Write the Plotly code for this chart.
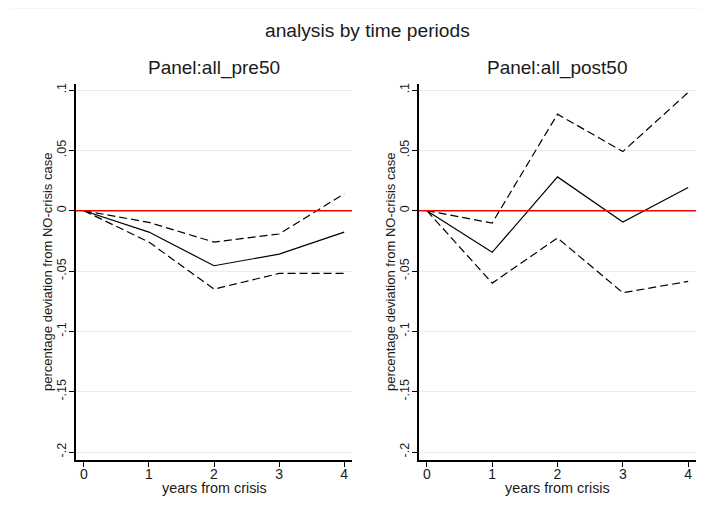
import plotly.graph_objects as go

years = [0, 1, 2, 3, 4]
pre50_est = [0, -0.0177, -0.0456, -0.036, -0.0177]
pre50_upper = [0, -0.0097, -0.026, -0.0193, 0.014]
pre50_lower = [0, -0.026, -0.065, -0.052, -0.052]
post50_est = [0, -0.0345, 0.028, -0.0094, 0.0193]
post50_upper = [0, -0.0102, 0.080, 0.049, 0.098]
post50_lower = [0, -0.060, -0.0226, -0.068, -0.0586]

ytick_vals = [-0.2, -0.15, -0.1, -0.05, 0, 0.05, 0.1]
ytick_text = ["-.2", "-.15", "-.1", "-.05", "0", ".05", ".1"]
xtick_vals = [0, 1, 2, 3, 4]
panel_titles = ["Panel:all_pre50", "Panel:all_post50"]
main_title = "analysis by time periods"
xtitle = "years from crisis"
ytitle = "percentage deviation from NO-crisis case"

# page body has an 8px margin; figure is sized so it fits the 708x521 window
OFF = 8
W, H = 708 - 2 * OFF, 521 - 2 * OFF
FONT = "Liberation Sans, Arial, sans-serif"
TXT = "#1a1a1a"


def px_x(px):
    return (px - OFF) / W


def px_y(py):
    return 1 - (py - OFF) / H


fig = go.Figure()

panels = [(pre50_est, pre50_upper, pre50_lower), (post50_est, post50_upper, post50_lower)]
for i, (est, up, lo) in enumerate(panels):
    xa = "x" if i == 0 else "x2"
    ya = "y" if i == 0 else "y2"
    for series, dash in [(up, "8px,4px"), (lo, "8px,4px"), (est, "solid")]:
        fig.add_trace(go.Scatter(x=years, y=series, mode="lines", xaxis=xa, yaxis=ya,
                                 line=dict(color="black", width=1.2, dash=dash),
                                 showlegend=False, hoverinfo="skip"))

left_px = [(76, 352), (419, 696)]
top_px, bot_px = 84, 460
ydom = [px_y(bot_px), px_y(top_px)]

common_x = dict(range=[-0.12, 4.12], tickvals=xtick_vals, showgrid=False, zeroline=False,
                showline=True, linecolor="black", linewidth=1.5, ticks="outside", ticklen=5,
                tickwidth=1.2, tickcolor="black", automargin=False, ticklabelstandoff=-5,
                tickfont=dict(family=FONT, size=14, color=TXT), fixedrange=True)
common_y = dict(range=[-0.2066, 0.105], tickvals=ytick_vals, ticktext=ytick_text,
                showgrid=True, gridcolor="#ebebeb", gridwidth=1, zeroline=False,
                showline=True, linecolor="black", linewidth=1.5, ticks="outside", ticklen=5,
                tickwidth=1.2, tickcolor="black", tickangle=-90, automargin=False,
                ticklabelstandoff=-2,
                tickfont=dict(family=FONT, size=12.5, color=TXT), fixedrange=True)

layout = dict(width=W, height=H, margin=dict(l=0, r=0, t=0, b=0, autoexpand=False),
              paper_bgcolor="white", plot_bgcolor="white", showlegend=False)
for i, (l, r) in enumerate(left_px):
    sfx = "" if i == 0 else str(i + 1)
    layout["xaxis" + sfx] = dict(common_x, domain=[px_x(l), px_x(r)], anchor="y" + sfx)
    layout["yaxis" + sfx] = dict(common_y, domain=ydom, anchor="x" + sfx)
fig.update_layout(**layout)

annotations = []
annotations.append(dict(text=main_title, x=px_x(367), y=px_y(30), xref="paper", yref="paper",
                        showarrow=False, xanchor="center", yanchor="middle",
                        font=dict(family=FONT, size=19.2, color=TXT)))
for i, (l, r) in enumerate(left_px):
    c = (l + r) / 2
    annotations.append(dict(text=panel_titles[i], x=px_x(c), y=px_y(68), xref="paper", yref="paper",
                            showarrow=False, xanchor="center", yanchor="middle",
                            font=dict(family=FONT, size=19, color=TXT)))
    annotations.append(dict(text=xtitle, x=px_x(c), y=px_y(488), xref="paper", yref="paper",
                            showarrow=False, xanchor="center", yanchor="middle",
                            font=dict(family=FONT, size=14.4, color=TXT)))
    annotations.append(dict(text=ytitle, x=px_x(l - 29), y=px_y((top_px + bot_px) / 2),
                            xref="paper", yref="paper", textangle=-90,
                            showarrow=False, xanchor="center", yanchor="middle",
                            font=dict(family=FONT, size=13, color=TXT)))
fig.update_layout(annotations=annotations)

shapes = []
for i in range(2):
    sfx = "" if i == 0 else str(i + 1)
    shapes.append(dict(type="line", xref="x" + sfx + " domain", yref="y" + sfx,
                       x0=0, x1=1, y0=0, y1=0, line=dict(color="#ff0000", width=1.6)))
shapes.append(dict(type="line", xref="paper", yref="paper", x0=px_x(11), x1=1, y0=px_y(8), y1=px_y(8),
                   line=dict(color="#eeeeee", width=1)))
fig.update_layout(shapes=shapes)

fig.write_html("out.html")
